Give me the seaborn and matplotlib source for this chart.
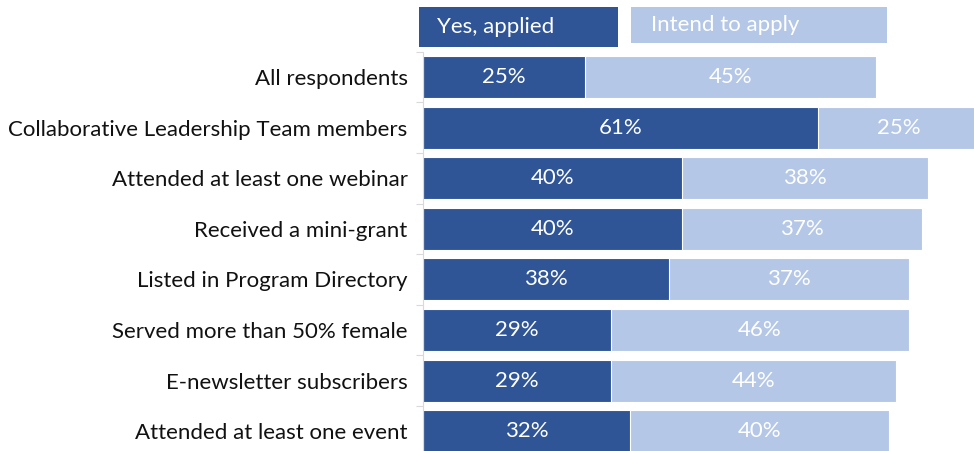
import matplotlib
matplotlib.use("Agg")
import matplotlib.pyplot as plt
from matplotlib.patches import Rectangle
import seaborn as sns
import pandas as pd

categories = [
    "All respondents",
    "Collaborative Leadership Team members",
    "Attended at least one webinar",
    "Received a mini-grant",
    "Listed in Program Directory",
    "Served more than 50% female",
    "E-newsletter subscribers",
    "Attended at least one event",
]
applied = [25, 61, 40, 40, 38, 29, 29, 32]
intend = [45, 25, 38, 37, 37, 46, 44, 40]
series_names = ["Yes, applied", "Intend to apply"]

DARK = "#2F5597"
LIGHT = "#B4C7E7"

df = pd.DataFrame({"category": categories, "applied": applied, "intend": intend})
df["total"] = df["applied"] + df["intend"]

sns.set_theme(style="white")
plt.rcParams["font.family"] = ["Lato", "DejaVu Sans"]

W, H = 974, 451
fig = plt.figure(figsize=(W / 100, H / 100), dpi=100)

left_px, top_px, row_px = 423, 51.7, 50.6
n = len(categories)
bottom_px = top_px + n * row_px
ax = fig.add_axes([left_px / W, (H - bottom_px) / H, (W - left_px) / W, (bottom_px - top_px) / H])

px_per_pct = 6.475
xmax = (W - left_px) / px_per_pct

# Stacked bars: full total in light colour, applied share drawn over it
sns.barplot(data=df, y="category", x="total", color=LIGHT, orient="h",
            width=0.83, ax=ax, edgecolor="white", linewidth=0.8, saturation=1)
sns.barplot(data=df, y="category", x="applied", color=DARK, orient="h",
            width=0.83, ax=ax, edgecolor="white", linewidth=0.8, saturation=1)

FS = 16
for i, (a, b) in enumerate(zip(applied, intend)):
    ax.text(a / 2, i, f"{a}%", ha="center", va="center", color="white", fontsize=FS)
    ax.text(a + b / 2, i, f"{b}%", ha="center", va="center", color="white", fontsize=FS)

ax.set_xlim(0, xmax)
ax.set_ylim(n - 0.5, -0.5)
ax.set_xlabel("")
ax.set_ylabel("")
ax.set_xticks([])
ax.set_yticks(range(n))
ax.set_yticklabels(categories, fontsize=FS, color="#111111")
ax.tick_params(axis="y", which="major", left=False, length=0, pad=11)
# short ticks at category boundaries
ax.set_yticks([i + 0.5 for i in range(-1, n)], minor=True)
ax.tick_params(axis="y", which="minor", left=True, length=5, color="#D9D9D9", width=0.8)
for s in ["top", "right", "bottom"]:
    ax.spines[s].set_visible(False)
ax.spines["left"].set_color("#D9D9D9")
ax.spines["left"].set_linewidth(0.8)

# Legend boxes across the top
def fig_box(x0, y0, x1, y1, color, label, tx):
    fig.patches.append(Rectangle((x0 / W, 1 - y1 / H), (x1 - x0) / W, (y1 - y0) / H,
                                 transform=fig.transFigure, facecolor=color,
                                 edgecolor="none", zorder=0))
    fig.text(tx / W, 1 - ((y0 + y1) / 2) / H, label, color="white", fontsize=FS,
             ha="left", va="center")

fig_box(419, 7, 618, 47, DARK, series_names[0], 437)
fig_box(631, 7, 887, 43, LIGHT, series_names[1], 651)

fig.savefig("out.png", dpi=100)
